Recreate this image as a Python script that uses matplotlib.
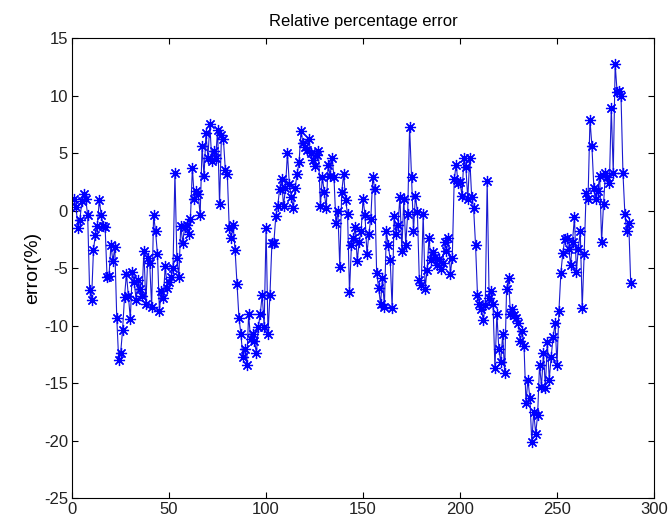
import numpy as np
import matplotlib
matplotlib.use("Agg")
import matplotlib.pyplot as plt

# relative percentage error, one value per sample
err_part1 = [
    1.0, 0.3, -1.5, -0.8, 0.8, 1.4, 1.0, -0.4, -6.9, -7.8,
    -3.4, -2.1, -1.3, 0.9, -0.4, -1.3, -1.4, -5.8, -5.7, -3.0,
    -4.4, -3.2, -9.3, -13.0, -12.4, -10.4, -7.5, -5.5, -7.4, -9.4,
    -5.3, -6.2, -7.8, -6.0, -6.8, -7.4, -3.5, -8.1, -4.1, -4.6,
    -8.4, -0.4, -1.8, -3.8, -8.7, -7.0, -7.6, -4.8, -6.7, -6.2,
    -5.8, -5.0, 3.3, -4.1, -5.8, -1.3, -2.8, -1.4, -1.25, -2.0,
    -0.7, 3.7, 1.0, 1.7, 1.4, -0.4, 5.6, 3.0, 6.7, 4.6,
    7.5, 4.3, 5.2, 4.6, 7.0, 0.6, 6.6, 6.2, 3.5, 3.2,
    -1.5, -2.4, -1.25, -3.4, -6.4, -9.3, -10.7, -12.7, -12.0, -13.4,
    -9.0, -11.2, -10.7, -11.3, -12.4, -10.1, -9.0, -7.3, -10.1, -1.5,
]
err_part2 = [
    -10.7, -7.3, -2.8, -2.8, -0.5, 0.4, 1.9, 2.7, 0.4, 2.0,
    5.0, 2.3, 1.2, 0.2, 2.0, 3.2, 4.2, 6.9, 5.9, 5.5,
    5.3, 6.2, 5.0, 4.4, 3.9, 4.8, 5.2, 0.4, 2.9, 1.6,
    0.2, 4.0, 3.0, 4.6, 2.9, -1.1, 0.0, -4.9, 1.6, 3.2,
    0.9, -0.3, -7.1, -3.0, -2.4, -1.4, -4.4, -2.7, -1.8, 1.0,
    -0.4, -3.8, -2.0, -0.7, 2.9, 1.9, -5.4, -6.7, -8.1, -5.9,
    -8.4, -1.8, -3.0, -4.3, -8.5, -0.5, -2.0, -1.25, 1.2, -3.5,
    1.0, -3.0, -0.3, 7.3, 2.9, -1.8, 1.3, -0.1, -6.0, -6.5,
    -0.3, -6.8, -5.2, -2.4, -4.3, -3.6, -4.0, -4.7, -4.2, -5.1,
    -4.6, -2.7, -3.5, -2.4, -5.5, -4.1, 2.7, 4.0, 2.4, 2.5,
]
err_part3 = [
    1.3, 4.6, 3.8, 1.0, 4.6, 1.2, 0.2, -3.0, -7.3, -8.1,
    -8.6, -9.5, -8.2, 2.6, -7.6, -7.0, -8.1, -13.7, -9.0, -12.0,
    -13.2, -10.7, -14.1, -6.8, -5.9, -9.0, -8.6, -9.1, -9.3, -9.8,
    -11.3, -10.5, -11.8, -16.7, -14.7, -16.3, -20.1, -17.5, -19.4, -17.8,
    -13.4, -15.3, -12.4, -15.4, -11.4, -14.7, -12.7, -11.0, -9.8, -13.4,
    -8.7, -5.4, -3.7, -2.5, -2.4, -3.3, -4.7, -2.7, -0.6, -5.3,
    -3.3, -1.8, -8.5, -3.8, 1.5, 1.0, 7.9, 5.6, 2.0, 1.0,
    1.7, 3.0, -2.7, 0.6, 3.3, 2.9, 2.4, 8.9, 3.3, 12.7,
    10.3, 10.4, 10.0, 3.3, -0.3, -1.8, -1.1, -6.3,
]
err = np.array(err_part1 + err_part2 + err_part3)
samples = np.arange(1, len(err) + 1)

x_ticks = [0, 50, 100, 150, 200, 250, 300]
y_ticks = [-25, -20, -15, -10, -5, 0, 5, 10, 15]

plt.rcParams["font.family"] = ["Liberation Sans", "DejaVu Sans"]
plt.rcParams["axes.unicode_minus"] = False

fig = plt.figure(figsize=(6.68, 5.21), dpi=100)
ax = fig.add_axes([0.108, 0.044, 0.871, 0.883])

# matlab style 'b-*': thin line, asterisk markers
ax.plot(samples, err, "-", color="#1a1ad0", linewidth=0.8,
        marker=(8, 2, 0), markersize=8, markeredgewidth=0.9,
        markeredgecolor="#0000ff")

ax.set_xlim(0, 300)
ax.set_ylim(-25, 15)
ax.set_xticks(x_ticks)
ax.set_yticks(y_ticks)
ax.tick_params(direction="in", length=4, labelsize=12, top=True, right=True,
               labeltop=False, labelright=False, pad=3)
for lbl in ax.get_xticklabels() + ax.get_yticklabels():
    lbl.set_color("#222222")

ax.set_title("Relative percentage error", fontsize=12, pad=9)
ax.set_ylabel("error(%)", fontsize=14, labelpad=2)

fig.savefig("out.png", dpi=100)
